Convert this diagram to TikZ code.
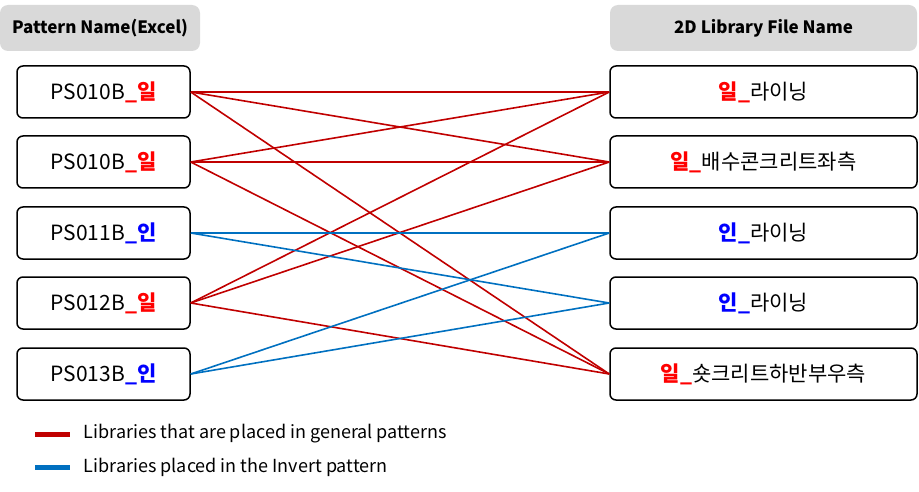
\documentclass[tikz,border=0pt]{standalone}
\usepackage{fontspec}
\setmainfont{Noto Sans CJK KR}
\definecolor{lred}{RGB}{192,0,0}
\definecolor{lblue}{RGB}{0,112,192}
\definecolor{hgray}{RGB}{217,217,217}
\tikzset{
  box/.style={draw, line width=1.5pt, rounded corners=6pt, minimum height=52pt, font=\fontsize{21}{24}\selectfont},
  head/.style={fill=hgray, rounded corners=8pt, minimum height=46pt, font=\fontsize{17}{20}\selectfont\bfseries},
  redl/.style={draw=lred, line width=1.6pt},
  bluel/.style={draw=lblue, line width=1.6pt}
}
\newcommand{\ilsuf}{\textcolor{red}{\bfseries\_일}}
\newcommand{\insuf}{\textcolor{blue}{\bfseries\_인}}
\begin{document}
\begin{tikzpicture}[x=1pt,y=-1pt]
\useasboundingbox (0,0) rectangle (919,492);
\node[head, minimum width=200pt] (hl) at (100,28) {Pattern Name(Excel)};
\node[head, minimum width=307pt] (hr) at (763.5,28) {2D Library File Name};

\node[box, minimum width=173pt] (1) at (103.5,92) {PS010B\ilsuf};
\node[box, minimum width=173pt] (2) at (103.5,162) {PS010B\ilsuf};
\node[box, minimum width=173pt] (3) at (103.5,233) {PS011B\insuf};
\node[box, minimum width=173pt] (4) at (103.5,303) {PS012B\ilsuf};
\node[box, minimum width=173pt] (5) at (103.5,374) {PS013B\insuf};

\node[box, minimum width=307pt] (1b) at (763.5,92) {\textcolor{red}{\bfseries 일\_}라이닝};
\node[box, minimum width=307pt] (2b) at (763.5,162) {\textcolor{red}{\bfseries 일\_}배수콘크리트좌측};
\node[box, minimum width=307pt] (3b) at (763.5,233) {\textcolor{blue}{\bfseries 인\_}라이닝};
\node[box, minimum width=307pt] (4b) at (763.5,303) {\textcolor{blue}{\bfseries 인\_}라이닝};
\node[box, minimum width=307pt] (5b) at (763.5,374) {\textcolor{red}{\bfseries 일\_}숏크리트하반부우측};

\foreach \a in {1,2,4}
  \foreach \b in {1b,2b,5b}
    \path[redl] (\a.east) -- (\b.west);
\foreach \a in {3,5}
  \foreach \b in {3b,4b}
    \path[bluel] (\a.east) -- (\b.west);

\coordinate (r1) at (35,434);
\coordinate (r2) at (70,434);
\coordinate (b1) at (35,467);
\coordinate (b2) at (70,467);
\path[draw=lred, line width=5pt] (r1) -- (r2) node[right=8pt, text=black, font=\fontsize{18}{21}\selectfont] (tr) {Libraries that are placed in general patterns};
\path[draw=lblue, line width=5pt] (b1) -- (b2) node[right=8pt, text=black, font=\fontsize{18}{21}\selectfont] (tb) {Libraries placed in the Invert pattern};
\end{tikzpicture}
\end{document}
